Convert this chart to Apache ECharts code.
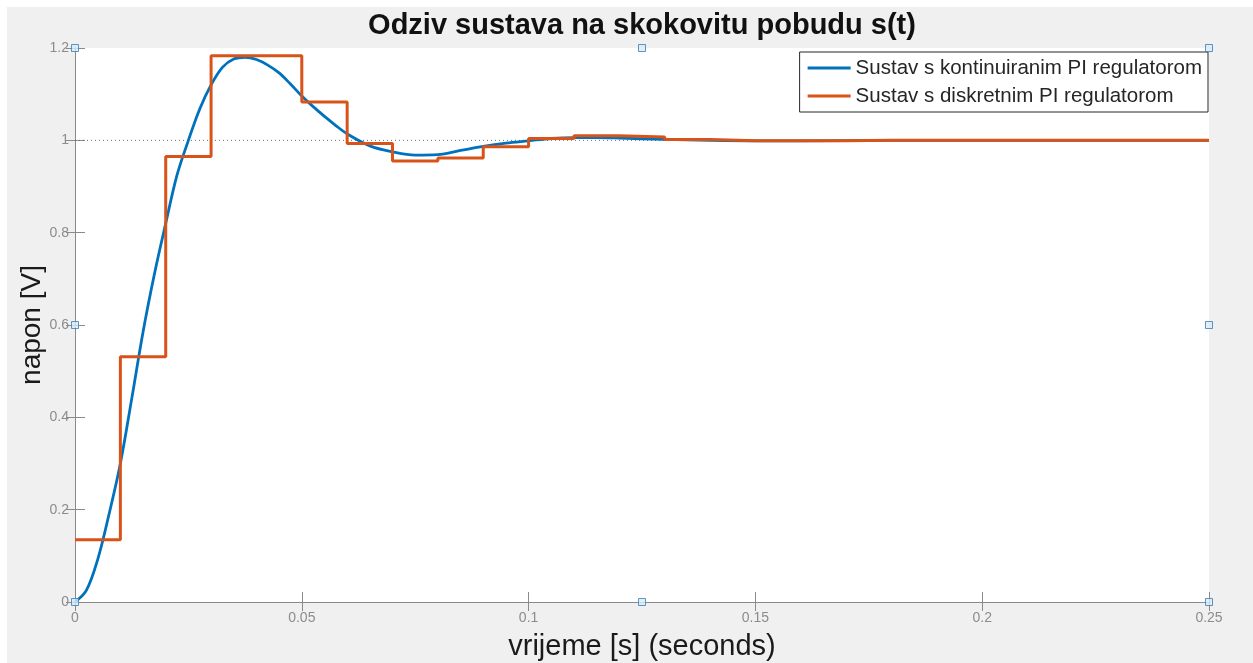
<!DOCTYPE html>
<html>
<head>
<meta charset="utf-8">
<script src="https://cdn.jsdelivr.net/npm/echarts@6.0.0/dist/echarts.min.js"></script>
<style>
  html, body { margin: 0; padding: 0; background: #ffffff; width: 1253px; height: 663px; overflow: hidden; }
  #main { position: absolute; left: 7px; top: 7px; width: 1246px; height: 656px; }
</style>
</head>
<body>
<div id="main"></div>
<script>
// ---- data ----
const titleText = 'Odziv sustava na skokovitu pobudu s(t)';
const xAxisTitle = 'vrijeme [s] (seconds)';
const yAxisTitle = 'napon [V]';
const seriesNames = ['Sustav s kontinuiranim PI regulatorom', 'Sustav s diskretnim PI regulatorom'];

const xTickLabels = ['0', '0.05', '0.1', '0.15', '0.2', '0.25'];
const yTickLabels = ['0', '0.2', '0.4', '0.6', '0.8', '1', '1.2'];

// continuous PI response (time in s, voltage in V)
const contTime = [0, 0.0025, 0.005, 0.0075, 0.01, 0.0125, 0.015, 0.0175, 0.02, 0.0225, 0.025, 0.0275,
  0.03, 0.0325, 0.035, 0.0375, 0.04, 0.0425, 0.045, 0.0475, 0.05, 0.0525, 0.055, 0.0575, 0.06,
  0.065, 0.07, 0.075, 0.08, 0.085, 0.09, 0.095, 0.1, 0.105, 0.11, 0.115, 0.12, 0.13, 0.14, 0.15,
  0.16, 0.18, 0.2, 0.22, 0.25];
const contValue = [0, 0.025, 0.092, 0.19, 0.30, 0.44, 0.585, 0.71, 0.82, 0.925, 1.0, 1.068,
  1.12, 1.158, 1.176, 1.180, 1.175, 1.163, 1.146, 1.122, 1.096, 1.073, 1.052, 1.032, 1.014,
  0.988, 0.975, 0.968, 0.969, 0.978, 0.987, 0.994, 0.999, 1.004, 1.006, 1.006, 1.005, 1.002, 1.0, 0.999,
  0.999, 1.0, 1.0, 1.0, 1.0];

// discrete PI response (zero-order hold samples)
const discTime = [0, 0.01, 0.02, 0.03, 0.04, 0.05, 0.06, 0.07, 0.08, 0.09, 0.1, 0.11, 0.12, 0.13,
  0.14, 0.15, 0.16, 0.17, 0.18, 0.19, 0.2, 0.21, 0.22, 0.23, 0.24, 0.25];
const discValue = [0.135, 0.531, 0.965, 1.183, 1.183, 1.083, 0.993, 0.955, 0.962, 0.986, 1.004, 1.010,
  1.007, 1.002, 0.999, 0.999, 0.999, 1.0, 1.0, 1.0, 1.0, 1.0, 1.0, 1.0, 1.0, 1.0];

// reference level (dotted) and figure selection handles
const refX = [0, 0.25];
const refY = [1, 1];
const handleX = [0, 0.125, 0.25, 0, 0.25, 0, 0.125, 0.25];
const handleY = [0, 0, 0, 0.6, 0.6, 1.2, 1.2, 1.2];

const xMin = 0, xMax = 0.25, xStep = 0.05;
const yMin = 0, yMax = 1.2, yStep = 0.2;

// ---- chart ----
const font = '"Liberation Sans", Arial, Helvetica, sans-serif';
const axisGray = '#8a8a8a';
const labelGray = '#8c8c8c';
const blue = '#0072BD';
const orange = '#D95319';

const zip = (a, b) => a.map((v, i) => [v, b[i]]);

const chart = echarts.init(document.getElementById('main'), null, { renderer: 'canvas' });

const hiddenAxisCommon = {
  axisLabel: { show: false },
  axisLine: { show: true, lineStyle: { color: axisGray, width: 1 } },
  axisTick: { show: true, inside: true, length: 9, lineStyle: { color: axisGray } },
  splitLine: { show: false }
};

chart.setOption({
  backgroundColor: '#f0f0f0',
  animation: false,
  textStyle: { fontFamily: font },
  title: {
    text: titleText,
    left: 635,
    top: 4.5,
    padding: 0,
    textAlign: 'center',
    textStyle: { fontFamily: font, fontSize: 29, fontWeight: 'bold', color: '#111111' }
  },
  legend: {
    data: [
      { name: seriesNames[0], icon: 'rect', itemStyle: { color: blue } },
      { name: seriesNames[1], icon: 'rect', itemStyle: { color: orange } }
    ],
    orient: 'vertical',
    right: 45,
    top: 45,
    padding: [5, 6, 5, 8],
    itemGap: 6,
    itemWidth: 43,
    itemHeight: 3,
    backgroundColor: '#ffffff',
    borderColor: '#262626',
    borderWidth: 1,
    borderRadius: 0,
    selectedMode: false,
    textStyle: { fontFamily: font, fontSize: 20.5, color: '#262626', lineHeight: 22 }
  },
  grid: {
    left: 68, right: 44, top: 41, bottom: 61,
    show: true, backgroundColor: '#ffffff', borderWidth: 0,
    containLabel: false,
    outerBoundsMode: 'none'
  },
  xAxis: [
    {
      type: 'value', position: 'bottom',
      min: xMin, max: xMax, interval: xStep,
      name: xAxisTitle, nameLocation: 'middle', nameGap: 30, nameMoveOverlap: false,
      nameTextStyle: { fontFamily: font, fontSize: 29, color: '#1a1a1a' },
      axisLine: { show: true, onZero: false, lineStyle: { color: axisGray, width: 1 } },
      axisTick: { show: true, inside: true, length: 10, lineStyle: { color: axisGray } },
      axisLabel: {
        show: true, margin: 9, color: labelGray, fontSize: 14, fontFamily: font,
        formatter: v => xTickLabels[Math.round((v - xMin) / xStep)]
      },
      splitLine: { show: false }
    },
    Object.assign({ type: 'value', position: 'top', min: xMin, max: xMax, interval: xStep }, hiddenAxisCommon)
  ],
  yAxis: [
    {
      type: 'value', position: 'left',
      min: yMin, max: yMax, interval: yStep,
      name: yAxisTitle, nameLocation: 'middle', nameGap: 29, nameMoveOverlap: false,
      nameTextStyle: { fontFamily: font, fontSize: 28, color: '#1a1a1a' },
      axisLine: { show: true, onZero: false, lineStyle: { color: axisGray, width: 1 } },
      axisTick: { show: true, inside: true, length: 10, lineStyle: { color: axisGray } },
      axisLabel: {
        show: true, margin: 6, color: labelGray, fontSize: 14, fontFamily: font,
        formatter: v => yTickLabels[Math.round((v - yMin) / yStep)]
      },
      splitLine: { show: false }
    },
    Object.assign({ type: 'value', position: 'right', min: yMin, max: yMax, interval: yStep }, hiddenAxisCommon)
  ],
  series: [
    {
      name: 'ref', type: 'line', data: zip(refX, refY),
      symbol: 'none', silent: true, z: 1,
      lineStyle: { color: '#6a6a6a', width: 1, type: [1, 3] }
    },
    {
      name: seriesNames[0], type: 'line', data: zip(contTime, contValue),
      smooth: 0.35, symbol: 'none', showSymbol: false, z: 3,
      color: blue,
      lineStyle: { color: blue, width: 2.8 }
    },
    {
      name: seriesNames[1], type: 'line', data: zip(discTime, discValue),
      step: 'end', symbol: 'none', showSymbol: false, z: 4,
      color: orange,
      lineStyle: { color: orange, width: 3 }
    },
    {
      name: 'handles', type: 'scatter', data: zip(handleX, handleY),
      symbol: 'rect', symbolSize: 7, clip: false, silent: true, z: 10,
      itemStyle: { color: '#d8ecfa', borderColor: '#3f7bab', borderWidth: 1 }
    }
  ]
});
</script>
</body>
</html>
